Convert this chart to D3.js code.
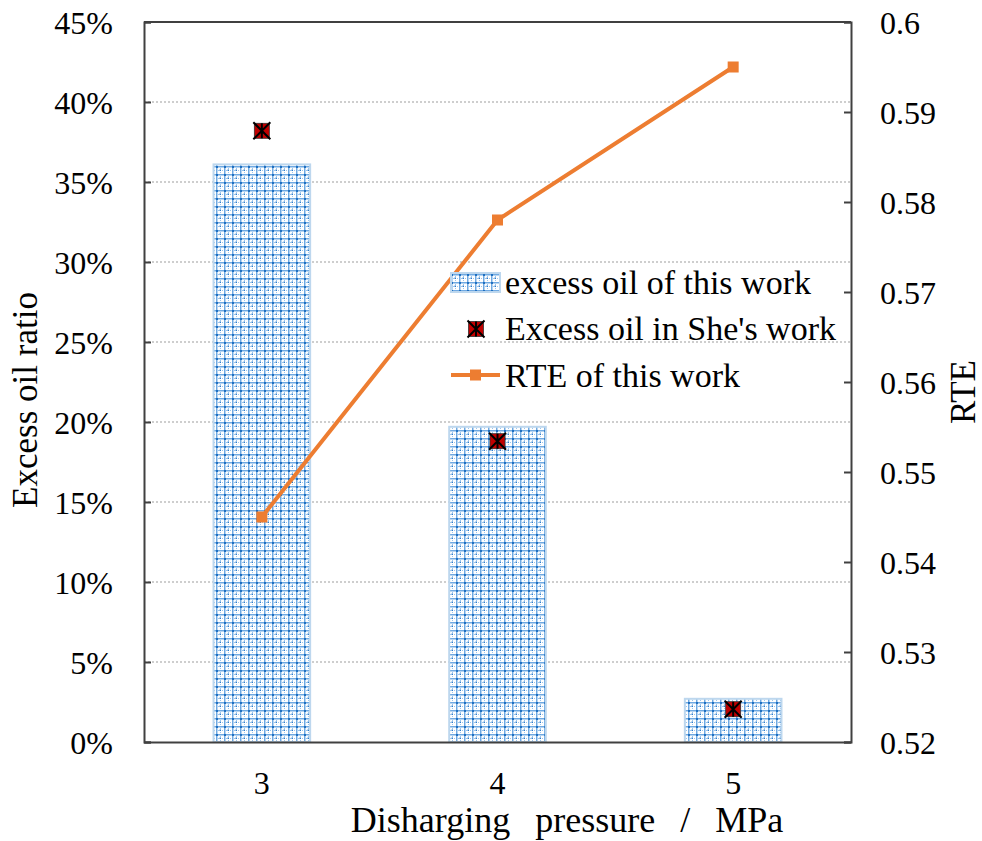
<!DOCTYPE html>
<html>
<head>
<meta charset="utf-8">
<script src="https://cdn.jsdelivr.net/npm/d3@7"></script>
</head>
<body style="margin:0; background:#fff">
<svg id="chart"></svg>
<script>
// data
const pressures = ["3", "4", "5"];
const excessOil = [0.361, 0.197, 0.027];        // bars, this work
const excessOilShe = [0.382, 0.188, 0.0205];    // markers, She's work
const rte = [0.545, 0.578, 0.595];              // line, right axis
const leftTicks = [0, 0.05, 0.1, 0.15, 0.2, 0.25, 0.3, 0.35, 0.4, 0.45];
const rightTicks = [0.52, 0.53, 0.54, 0.55, 0.56, 0.57, 0.58, 0.59, 0.6];
const legendLabels = ["excess oil of this work", "Excess oil in She's work", "RTE of this work"];

const width = 982;
const height = 841;
const margin = { top: 22, right: 131, bottom: 99, left: 144 };
const innerW = width - margin.left - margin.right;
const innerH = height - margin.top - margin.bottom;
const font = "Liberation Serif";

const svg = d3.select("#chart")
  .attr("width", width).attr("height", height)
  .attr("font-family", font);

// bar fill pattern (blue mesh)
const defs = svg.append("defs");
const pat = defs.append("pattern")
  .attr("id", "mesh")
  .attr("patternUnits", "userSpaceOnUse")
  .attr("width", 8).attr("height", 8);
pat.append("rect").attr("width", 8).attr("height", 8).attr("fill", "#ffffff");
pat.append("rect").attr("x", 0).attr("y", 0).attr("width", 8).attr("height", 1.5).attr("fill", "#6fa9e2");
pat.append("rect").attr("x", 0).attr("y", 0).attr("width", 1.5).attr("height", 8).attr("fill", "#6fa9e2");
pat.append("rect").attr("x", 0).attr("y", 0).attr("width", 2).attr("height", 2).attr("fill", "#1f6fc0");
pat.append("rect").attr("x", 3.5).attr("y", 3.5).attr("width", 1.5).attr("height", 1.5).attr("fill", "#2a7bcc");
pat.append("rect").attr("x", 2).attr("y", 4).attr("width", 1).attr("height", 1).attr("fill", "#9cc5ee");
pat.append("rect").attr("x", 6).attr("y", 4).attr("width", 1).attr("height", 1).attr("fill", "#9cc5ee");
pat.append("rect").attr("x", 4).attr("y", 2).attr("width", 1).attr("height", 1).attr("fill", "#9cc5ee");
pat.append("rect").attr("x", 4).attr("y", 6).attr("width", 1).attr("height", 1).attr("fill", "#9cc5ee");

const g = svg.append("g").attr("transform", `translate(${margin.left},${margin.top})`);

const x = d3.scaleBand().domain(pressures).range([0, innerW]).paddingInner(0.59).paddingOuter(0.295);
const yL = d3.scaleLinear().domain([0, 0.45]).range([innerH, 0]);
const yR = d3.scaleLinear().domain([0.52, 0.6]).range([innerH, 0]);
const cx = d => x(d) + x.bandwidth() / 2;

// gridlines
g.append("g")
  .selectAll("line")
  .data(leftTicks.slice(1))
  .join("line")
  .attr("x1", 0).attr("x2", innerW)
  .attr("y1", d => yL(d)).attr("y2", d => yL(d))
  .attr("stroke", "#bfbfbf")
  .attr("stroke-width", 1.5)
  .attr("stroke-dasharray", "2,2");

// bars
g.append("g")
  .selectAll("rect")
  .data(excessOil)
  .join("rect")
  .attr("x", (d, i) => x(pressures[i]))
  .attr("y", d => yL(d))
  .attr("width", x.bandwidth())
  .attr("height", d => innerH - yL(d))
  .attr("fill", "url(#mesh)")
  .attr("stroke", "#bdd7ee")
  .attr("stroke-width", 2);

// RTE line
const line = d3.line().x((d, i) => cx(pressures[i])).y(d => yR(d));
g.append("path")
  .datum(rte)
  .attr("d", line)
  .attr("fill", "none")
  .attr("stroke", "#ed7d31")
  .attr("stroke-width", 4);
g.append("g")
  .selectAll("rect")
  .data(rte)
  .join("rect")
  .attr("x", (d, i) => cx(pressures[i]) - 5.5)
  .attr("y", d => yR(d) - 5.5)
  .attr("width", 11).attr("height", 11)
  .attr("fill", "#ed7d31");

// She's work markers: red square with black asterisk
function starMarker(sel, px, py) {
  const s = 7.5;
  const a = 8.5;
  sel.append("rect").attr("x", px - s).attr("y", py - s)
    .attr("width", 2 * s).attr("height", 2 * s)
    .attr("fill", "#c00000").attr("stroke", "#333").attr("stroke-width", 0.8);
  sel.append("path")
    .attr("d", `M${px - a},${py - a}L${px + a},${py + a}M${px + a},${py - a}L${px - a},${py + a}M${px},${py - s}L${px},${py + s}`)
    .attr("stroke", "#000").attr("stroke-width", 2);
}
const markers = g.append("g");
excessOilShe.forEach((d, i) => starMarker(markers, cx(pressures[i]), yL(d)));

// axes
const axisColor = "#404040";
const left = g.append("g")
  .call(d3.axisLeft(yL).tickValues(leftTicks).tickSize(-7).tickPadding(31).tickFormat(d3.format(".0%")));
const right = g.append("g").attr("transform", `translate(${innerW},0)`)
  .call(d3.axisRight(yR).tickValues(rightTicks).tickSize(-7).tickPadding(29).tickFormat(d => d === 0.6 ? "0.6" : d3.format(".2f")(d)));
const bottom = g.append("g").attr("transform", `translate(0,${innerH})`)
  .call(d3.axisBottom(x).tickSize(0).tickPadding(30));
g.append("line").attr("x1", 0).attr("x2", innerW).attr("y1", 0).attr("y2", 0)
  .attr("stroke", axisColor).attr("stroke-width", 2);

[left, right, bottom].forEach(a => {
  a.attr("font-family", font);
  a.select(".domain").attr("stroke", axisColor).attr("stroke-width", 2);
  a.selectAll(".tick line").attr("stroke", axisColor).attr("stroke-width", 2);
  a.selectAll("text").attr("font-size", 32).attr("font-family", font).attr("fill", "#000");
});
left.selectAll("text").attr("dy", "0.35em");
right.selectAll("text").attr("dy", "0.35em");
bottom.selectAll("text").attr("dy", "0.68em");

// axis titles
svg.append("text")
  .attr("transform", "translate(37,400) rotate(-90)")
  .attr("text-anchor", "middle")
  .attr("font-family", font)
  .attr("font-size", 35)
  .text("Excess oil ratio");
svg.append("text")
  .attr("transform", "translate(975,392) rotate(-90)")
  .attr("text-anchor", "middle")
  .attr("font-family", font)
  .attr("font-size", 35)
  .text("RTE");
svg.append("text")
  .attr("x", 567)
  .attr("y", 832)
  .attr("text-anchor", "middle")
  .attr("font-family", font)
  .attr("font-size", 36)
  .attr("word-spacing", 16)
  .text("Disharging pressure / MPa");

// legend
const legend = svg.append("g").attr("transform", "translate(451,282)");
legend.append("rect").attr("x", 0).attr("y", -9).attr("width", 49).attr("height", 19)
  .attr("fill", "url(#mesh)").attr("stroke", "#bdd7ee").attr("stroke-width", 2);
starMarker(legend, 25, 47);
legend.append("line").attr("x1", 0).attr("x2", 49).attr("y1", 93).attr("y2", 93)
  .attr("stroke", "#ed7d31").attr("stroke-width", 4);
legend.append("rect").attr("x", 19).attr("y", 87.5).attr("width", 11).attr("height", 11).attr("fill", "#ed7d31");
legend.selectAll("text.lab")
  .data(legendLabels)
  .join("text")
  .attr("class", "lab")
  .attr("x", 54)
  .attr("y", (d, i) => i * 46.5)
  .attr("dy", "0.35em")
  .attr("font-family", font)
  .attr("font-size", 34)
  .text(d => d);
</script>
</body>
</html>
